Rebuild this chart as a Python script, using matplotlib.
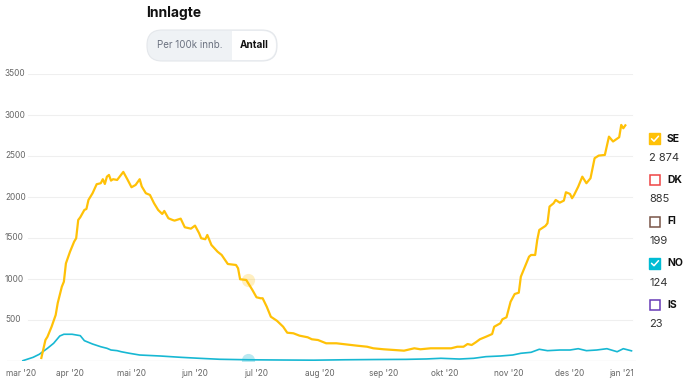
import matplotlib
matplotlib.use('Agg')
import numpy as np
import pandas as pd
import matplotlib.pyplot as plt
import matplotlib.dates as mdates
import matplotlib.transforms as mtransforms
from matplotlib.patches import FancyBboxPatch, Rectangle

plt.rcParams['font.family'] = ['Inter', 'DejaVu Sans']

# innlagte, Sverige (SE)
se_dates = ['2020-03-18', '2020-03-20', '2020-03-21', '2020-03-23', '2020-03-25', '2020-03-26',
            '2020-03-28', '2020-03-29', '2020-03-30', '2020-04-01', '2020-04-03', '2020-04-04',
            '2020-04-05', '2020-04-06', '2020-04-08', '2020-04-09', '2020-04-10', '2020-04-12',
            '2020-04-14', '2020-04-16', '2020-04-17', '2020-04-18', '2020-04-19', '2020-04-20',
            '2020-04-21', '2020-04-22', '2020-04-24', '2020-04-25', '2020-04-27', '2020-04-29',
            '2020-05-01', '2020-05-03', '2020-05-05', '2020-05-06', '2020-05-08', '2020-05-10',
            '2020-05-12', '2020-05-14', '2020-05-16', '2020-05-17', '2020-05-19', '2020-05-21',
            '2020-05-22', '2020-05-25', '2020-05-27', '2020-05-30', '2020-06-01', '2020-06-03',
            '2020-06-04', '2020-06-06', '2020-06-07', '2020-06-09', '2020-06-12', '2020-06-14',
            '2020-06-17', '2020-06-21', '2020-06-22', '2020-06-23', '2020-06-26', '2020-06-28',
            '2020-06-29', '2020-07-01', '2020-07-03', '2020-07-04', '2020-07-06', '2020-07-08',
            '2020-07-11', '2020-07-14', '2020-07-16', '2020-07-19', '2020-07-22', '2020-07-26',
            '2020-07-28', '2020-07-31', '2020-08-04', '2020-08-09', '2020-08-13', '2020-08-19',
            '2020-08-24', '2020-08-27', '2020-09-01', '2020-09-06', '2020-09-11', '2020-09-16',
            '2020-09-19', '2020-09-24', '2020-09-30', '2020-10-04', '2020-10-07', '2020-10-10',
            '2020-10-12', '2020-10-14', '2020-10-16', '2020-10-18', '2020-10-21', '2020-10-24',
            '2020-10-25', '2020-10-28', '2020-10-29', '2020-10-31', '2020-11-02', '2020-11-04',
            '2020-11-06', '2020-11-07', '2020-11-09', '2020-11-11', '2020-11-12', '2020-11-14',
            '2020-11-15', '2020-11-16', '2020-11-19', '2020-11-20', '2020-11-21', '2020-11-23',
            '2020-11-24', '2020-11-26', '2020-11-28', '2020-11-29', '2020-12-01', '2020-12-02',
            '2020-12-03', '2020-12-05', '2020-12-07', '2020-12-09', '2020-12-11', '2020-12-13',
            '2020-12-15', '2020-12-18', '2020-12-20', '2020-12-22', '2020-12-25', '2020-12-26',
            '2020-12-27', '2020-12-28']
se_values = [37, 256, 296, 418, 561, 707,
             906, 967, 1191, 1333, 1455, 1497,
             1720, 1753, 1842, 1854, 1964, 2046,
             2156, 2168, 2217, 2159, 2248, 2269,
             2200, 2217, 2208, 2241, 2306, 2215,
             2119, 2147, 2217, 2129, 2046, 2025,
             1924, 1842, 1793, 1830, 1741, 1720,
             1712, 1736, 1631, 1614, 1651, 1558,
             1497, 1485, 1537, 1415, 1333, 1293,
             1183, 1171, 1131, 997, 988, 906,
             866, 777, 765, 765, 662, 540,
             490, 418, 345, 338, 309, 289,
             265, 256, 216, 216, 204, 187,
             174, 155, 143, 134, 126, 155,
             143, 155, 155, 155, 174, 174,
             207, 195, 228, 265, 296, 329,
             418, 460, 509, 533, 723, 817,
             833, 1028, 1150, 1272, 1293, 1293,
             1476, 1598, 1647, 1680, 1883, 1924,
             1964, 1931, 1956, 2058, 2037, 1985,
             2025, 2126, 2248, 2168, 2229, 2473,
             2505, 2513, 2736, 2677, 2729, 2879,
             2838, 2874]

# innlagte, Norge (NO)
no_dates = ['2020-03-09', '2020-03-14', '2020-03-17', '2020-03-21', '2020-03-24', '2020-03-27',
            '2020-03-29', '2020-04-02', '2020-04-06', '2020-04-08', '2020-04-12', '2020-04-16',
            '2020-04-19', '2020-04-21', '2020-04-24', '2020-04-26', '2020-04-30', '2020-05-05',
            '2020-05-15', '2020-05-25', '2020-06-03', '2020-06-13', '2020-06-27', '2020-07-14',
            '2020-07-29', '2020-08-13', '2020-08-28', '2020-09-12', '2020-09-22', '2020-09-29',
            '2020-10-08', '2020-10-15', '2020-10-21', '2020-10-28', '2020-11-03', '2020-11-07',
            '2020-11-12', '2020-11-16', '2020-11-20', '2020-11-26', '2020-12-01', '2020-12-05',
            '2020-12-09', '2020-12-14', '2020-12-19', '2020-12-24', '2020-12-27', '2020-12-31']
no_values = [4, 45, 82, 155, 216, 305,
             326, 326, 309, 248, 207, 174,
             155, 134, 126, 113, 94, 73,
             61, 45, 33, 21, 15, 12,
             10, 15, 18, 20, 25, 33,
             24, 33, 53, 61, 73, 94,
             106, 143, 126, 134, 134, 150,
             126, 134, 150, 113, 150, 124]

months = ['2020-03-01', '2020-04-01', '2020-05-01', '2020-06-01', '2020-07-01', '2020-08-01',
          '2020-09-01', '2020-10-01', '2020-11-01', '2020-12-01', '2021-01-01']
month_labels = ["mar '20", "apr '20", "mai '20", "jun '20", "jul '20", "aug '20",
                "sep '20", "okt '20", "nov '20", "des '20", "jan '21"]
yticks = [500, 1000, 1500, 2000, 2500, 3000, 3500]

legend_codes = ['SE', 'DK', 'FI', 'NO', 'IS']
legend_latest = ['2 874', '885', '199', '124', '23']
legend_colors = ['#FFC107', '#EF4444', '#795548', '#00BCD4', '#673AB7']
legend_checked = [True, False, False, True, False]

hover_date = '2020-06-27'
hover_se = 988
hover_no = 15

W, H = 690, 388
fig = plt.figure(figsize=(W / 100, H / 100), dpi=100)
ax = fig.add_axes([6.5 / W, 27 / H, 629.5 / W, 287 / H])

x0 = pd.Timestamp('2020-03-01')
ax.set_xlim(x0, x0 + pd.Timedelta(days=307.2))
ax.set_ylim(0, 3500)

ax.plot(pd.to_datetime(no_dates), no_values, color='#17B8D3', lw=1.2, zorder=3)
ax.plot(pd.to_datetime(se_dates), se_values, color='#FFC107', lw=1.6, zorder=4)

hd = pd.to_datetime([hover_date])
ax.scatter(hd, [hover_se], s=90, color='#FFC107', alpha=0.25, lw=0, zorder=5)
ax.scatter(hd, [hover_no], s=90, color='#17B8D3', alpha=0.3, lw=0, zorder=5)

# grid lines (start right of the y labels)
gx0 = (28 - 6.5) / 629.5
gx1 = (632 - 6.5) / 629.5
for v in yticks:
    ax.axhline(v, xmin=gx0, xmax=gx1, color='#EFEFEF', lw=0.8, zorder=1)
ax.axhline(0, color='#E0E0E0', lw=0.9, zorder=2)

for s in ax.spines.values():
    s.set_visible(False)
ax.set_yticks([])
ax.set_xticks(pd.to_datetime(months))
ax.set_xticklabels(month_labels)
ax.tick_params(axis='x', length=0, pad=6, labelsize=6, colors='#666666')
lbls = ax.get_xticklabels()
lbls[0].set_ha('left')
lbls[-1].set_ha('right')

ytr = mtransforms.blended_transform_factory(fig.transFigure, ax.transData)
for v in yticks:
    ax.text(5 / W, v, str(v), transform=ytr, ha='left', va='center',
            fontsize=6, color='#666666', clip_on=False)

# overlay in pixel coordinates for title, toggle and legend
ov = fig.add_axes([0, 0, 1, 1])
ov.set_xlim(0, W)
ov.set_ylim(H, 0)
ov.axis('off')

ov.text(146, 13, 'Innlagte', ha='left', va='center', fontsize=10,
        fontweight='bold', color='#111111')

ov.add_patch(FancyBboxPatch((147, 30), 130, 31, boxstyle='round,pad=0,rounding_size=15',
                            fc='#EFF2F5', ec='#E4E7EB', lw=0.8))
ov.add_patch(FancyBboxPatch((215, 31), 61, 29, boxstyle='round,pad=0,rounding_size=14.5',
                            fc='white', ec='none'))
ov.add_patch(Rectangle((214, 31), 18, 29, fc='#EFF2F5', ec='none'))
ov.text(189.5, 45.5, 'Per 100k innb.', ha='center', va='center', fontsize=7, color='#6B7280')
ov.text(254, 45.5, 'Antall', ha='center', va='center', fontsize=7.2,
        fontweight='bold', color='#111111')

for i, code in enumerate(legend_codes):
    y0 = 133 + i * 41.5
    c = legend_colors[i]
    if legend_checked[i]:
        ov.add_patch(Rectangle((649, y0), 11, 11, fc=c, ec=c, lw=1))
        ov.plot([651.5, 654, 658.5], [y0 + 5.8, y0 + 8.2, y0 + 3.2], color='white', lw=1.1,
                solid_capstyle='round', solid_joinstyle='round')
    else:
        ov.add_patch(Rectangle((649.5, y0 + 0.5), 10, 10, fc='white', ec=c, lw=1.1))
    ov.text(667, y0 + 5.5, code, ha='left', va='center', fontsize=7.5,
            fontweight='bold', color='#111111')
    ov.text(649, y0 + 25, legend_latest[i], ha='left', va='center', fontsize=8,
            color='#333333')

fig.savefig('out.png', dpi=100)
